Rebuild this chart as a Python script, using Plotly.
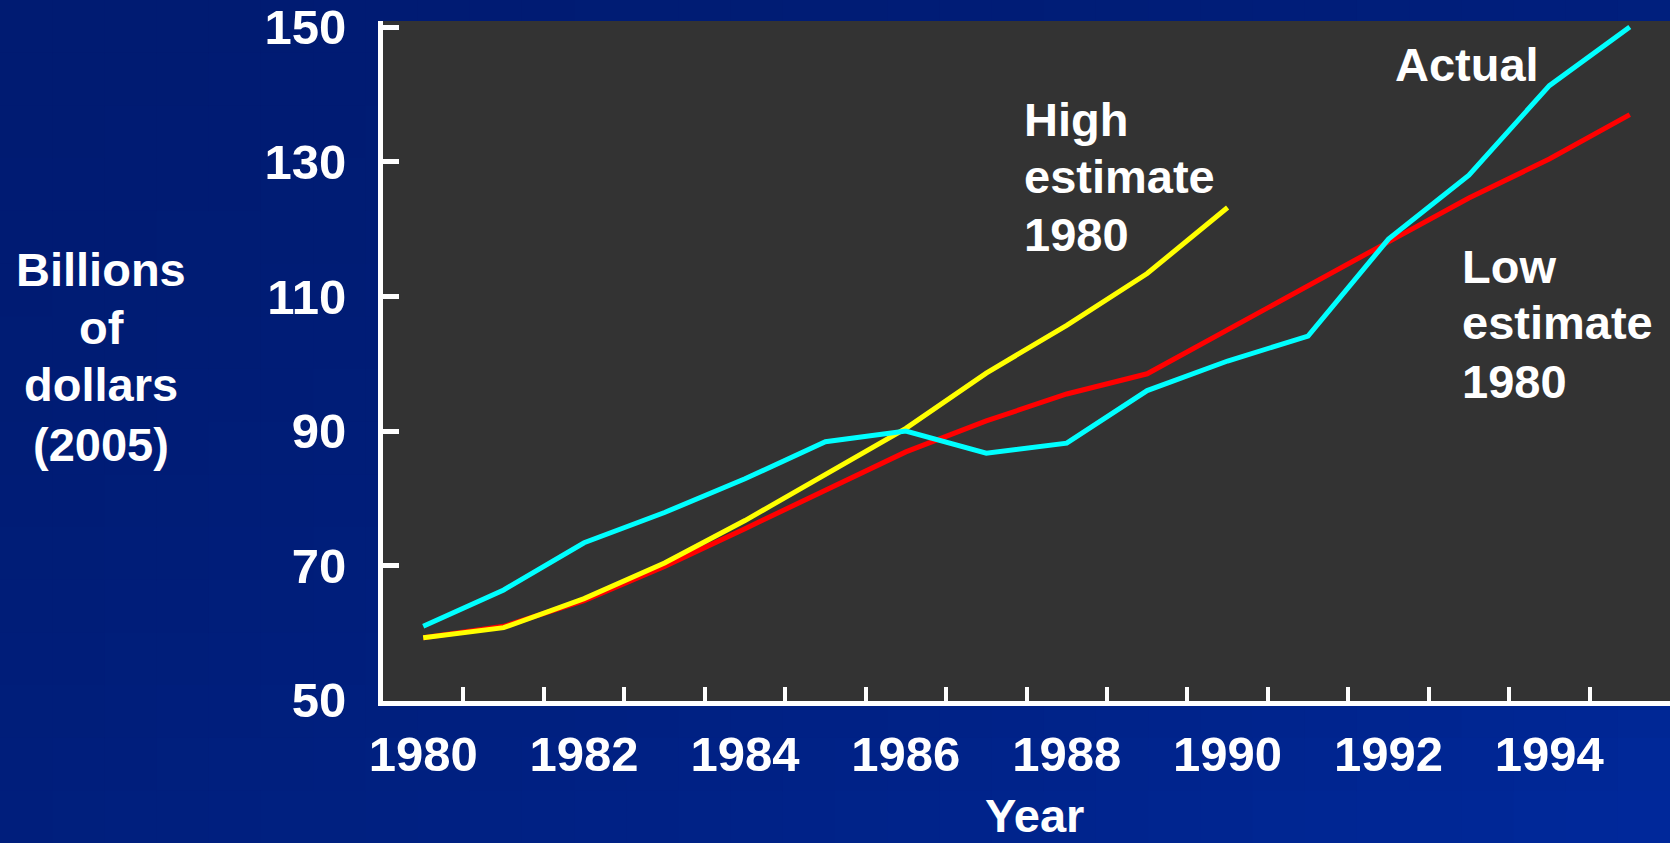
import plotly.graph_objects as go

years = list(range(1980, 1996))
actual = [61.0, 66.4, 73.4, 77.9, 82.9, 88.4, 90.0, 86.7, 88.2, 96.0, 100.4, 104.1, 118.5, 128.0, 141.3, 150.0]
low_est = [59.3, 61.0, 64.8, 69.9, 75.5, 81.2, 86.9, 91.5, 95.5, 98.5, 105.1, 111.5, 118.1, 124.6, 130.4, 137.0]
high_years = list(range(1980, 1991))
high_est = [59.3, 60.8, 65.1, 70.4, 76.7, 83.5, 90.4, 98.6, 105.7, 113.4, 123.2]

x_labels = list(range(1980, 1996, 2))
y_ticks = [50, 70, 90, 110, 130, 150]

W, H = 1670, 843
L, T, R, B = 383, 21, 1670, 701
FONT = "Liberation Sans, Arial, sans-serif"


def px_x(x):
    return (x - L) / (R - L)


def px_y(y):
    return (B - y) / (B - T)


fig = go.Figure()
fig.add_trace(go.Scatter(x=years, y=low_est, mode="lines", line=dict(color="#FF0000", width=5)))
fig.add_trace(go.Scatter(x=high_years, y=high_est, mode="lines", line=dict(color="#FFFF00", width=5)))
fig.add_trace(go.Scatter(x=years, y=actual, mode="lines", line=dict(color="#00FFFF", width=5)))

# navy gradient background, lighter toward the bottom right
shapes = []
nx, ny = 32, 16
tl = (0, 27, 114)
br = (0, 41, 156)
for i in range(nx):
    for j in range(ny):
        u = (i + 0.5) / nx
        v = (j + 0.5) / ny
        f = ((u + v) / 2) ** 2
        c = tuple(int(round(tl[k] + (br[k] - tl[k]) * f)) for k in range(3))
        x0 = W * i / nx
        x1 = W * (i + 1) / nx + 1
        y0 = H * j / ny
        y1 = H * (j + 1) / ny + 1
        shapes.append(dict(
            type="rect", xref="paper", yref="paper", layer="below",
            x0=px_x(x0), x1=px_x(x1), y0=px_y(y1), y1=px_y(y0),
            line=dict(width=0), fillcolor="rgb(%d,%d,%d)" % c,
        ))
shapes.append(dict(
    type="rect", xref="paper", yref="paper", layer="below",
    x0=px_x(380), x1=1.01, y0=0, y1=1,
    line=dict(width=0), fillcolor="#333333",
))

annotations = []


def label(text, x, baseline, size=47, xanchor="left"):
    annotations.append(dict(
        text=text, xref="paper", yref="paper",
        x=px_x(x), y=px_y(baseline - 0.33 * size),
        xanchor=xanchor, yanchor="middle", showarrow=False,
        font=dict(family=FONT, size=size, color="white", weight="bold"),
    ))


label("Actual", 1393, 80)
for t, b in zip(["High", "estimate", "1980"], [135, 192, 250]):
    label(t, 1022, b)
for t, b in zip(["Low", "estimate", "1980"], [282, 338, 397]):
    label(t, 1460, b)
for t, b in zip(["Billions", "of", "dollars", "(2005)"], [285, 343, 400, 460]):
    label(t, 101, b, xanchor="center")
label("Year", 1034, 831, xanchor="center")

fig.update_layout(
    width=W, height=H,
    margin=dict(l=L, r=W - R, t=T, b=H - B),
    paper_bgcolor="#001B72",
    plot_bgcolor="#333333",
    showlegend=False,
    shapes=shapes,
    annotations=annotations,
    font=dict(family=FONT, color="white", weight="bold"),
)
fig.update_xaxes(
    range=[1979.5, 1995.5],
    tickvals=x_labels,
    ticks="",
    tickfont=dict(size=49, color="white", weight="bold"),
    ticklabelstandoff=6,
    showgrid=False, zeroline=False,
    showline=True, linecolor="white", linewidth=5,
    minor=dict(
        tickvals=[y + 0.5 for y in range(1980, 1995)],
        ticks="inside", ticklen=14, tickwidth=4, tickcolor="white", showgrid=False,
    ),
)
fig.update_yaxes(
    range=[49.9, 150.9],
    tickvals=y_ticks,
    ticks="inside", ticklen=16, tickwidth=5, tickcolor="white",
    tickfont=dict(size=49, color="white", weight="bold"),
    ticklabelstandoff=22,
    showgrid=False, zeroline=False,
    showline=True, linecolor="white", linewidth=5,
)

fig.write_html(
    "out.html",
    config={"displayModeBar": False},
    post_script="document.body.style.margin='0';document.body.style.background='#001B72';",
)
